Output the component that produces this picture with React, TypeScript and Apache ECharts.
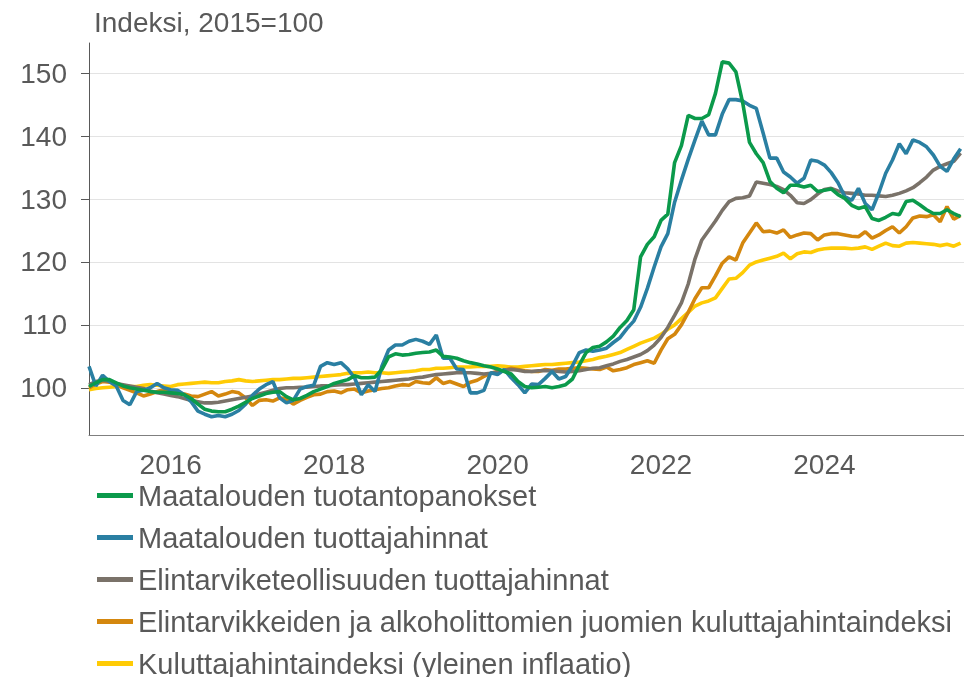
import React, { useEffect, useRef } from "react";
import * as echarts from "echarts";

// Monthly data, Jan 2015 .. Sep 2025 (index 0 = Jan 2015)
const startYear = 2015;

const seriesNames = [
  "Maatalouden tuotantopanokset",
  "Maatalouden tuottajahinnat",
  "Elintarviketeollisuuden tuottajahinnat",
  "Elintarvikkeiden ja alkoholittomien juomien kuluttajahintaindeksi",
  "Kuluttajahintaindeksi (yleinen inflaatio)",
];

const maatalousPanokset = [
  100.2, 100.8, 101.3, 101.3, 100.8, 100.3, 100.0, 99.8, 99.6, 99.4,
  99.3, 99.3, 99.2, 99.1, 98.9, 98.3, 97.4, 96.6, 96.3, 96.2,
  96.2, 96.6, 97.1, 97.7, 98.3, 98.7, 99.1, 99.3, 99.4, 98.6,
  98.1, 98.3, 98.8, 99.4, 99.8, 100.2, 100.7, 101.0, 101.3, 101.9,
  101.6, 101.6, 101.7, 102.9, 104.9, 105.4, 105.2, 105.3, 105.5, 105.6,
  105.7, 106.0, 105.0, 104.9, 104.7, 104.3, 104.0, 103.8, 103.5, 103.3,
  103.0, 102.6, 102.2, 101.0, 100.2, 100.0, 100.1, 100.2, 100.0, 100.2,
  100.5, 101.4, 103.6, 105.6, 106.4, 106.6, 107.3, 108.2, 109.6, 110.7,
  112.4, 120.8, 122.8, 124.0, 126.6, 127.6, 135.8, 138.5, 143.3, 142.8,
  142.8, 143.4, 146.8, 151.8, 151.6, 150.2, 145.3, 139.0, 137.2, 135.8,
  132.8, 131.7, 131.0, 132.2, 132.2, 131.9, 132.2, 131.2, 131.4, 131.6,
  130.7, 130.1, 129.0, 128.5, 128.8, 126.9, 126.6, 127.1, 127.7, 127.5,
  129.6, 129.8, 129.1, 128.3, 127.7, 127.7, 128.3, 127.7, 127.2,
];

const maatalousTuottaja = [
  103.4, 100.3, 102.0, 101.0, 100.3, 98.0, 97.3, 99.4, 99.6, 100.0,
  100.7, 100.0, 99.7, 99.6, 98.9, 97.8, 96.3, 95.8, 95.4, 95.6,
  95.4, 95.8, 96.4, 97.4, 98.8, 99.8, 100.5, 101.0, 98.4, 97.6,
  98.0, 99.8, 100.2, 100.4, 103.4, 104.0, 103.7, 104.0, 103.0, 101.6,
  98.9, 100.5, 99.4, 103.4, 106.0, 106.8, 106.8, 107.4, 107.7, 107.4,
  106.9, 108.4, 104.7, 104.7, 103.0, 102.9, 99.2, 99.2, 99.6, 102.4,
  102.1, 102.9, 101.6, 100.5, 99.2, 100.6, 100.5, 101.5, 102.6, 101.4,
  101.8, 103.5, 105.6, 106.0, 105.8, 106.0, 106.3, 107.2, 108.0, 109.4,
  110.6, 112.8, 115.8, 119.2, 122.4, 124.5, 129.5, 133.0, 136.3, 139.4,
  142.4, 140.2, 140.2, 143.5, 145.8, 145.8, 145.6, 144.9, 144.4, 140.5,
  136.5, 136.5, 134.3, 133.5, 132.5, 133.3, 136.2, 136.0, 135.4, 134.2,
  132.6, 130.4, 129.8, 131.7, 129.3, 128.3, 131.0, 134.1, 136.2, 138.8,
  137.2, 139.4, 139.0, 138.3, 137.0, 135.2, 134.4, 136.4, 138.0,
];

const elintarvikeTeollisuus = [
  100.5, 101.0, 101.2, 101.0, 100.7, 100.5, 100.3, 100.1, 99.9, 99.5,
  99.2, 99.0, 98.8, 98.6, 98.3, 98.0, 97.8, 97.6, 97.6, 97.7,
  97.9, 98.1, 98.3, 98.5, 98.7, 99.0, 99.3, 99.6, 99.9, 100.0,
  100.0, 100.1, 100.1, 100.2, 100.3, 100.3, 100.4, 100.5, 100.5, 100.6,
  100.7, 100.8, 100.9, 101.0, 101.1, 101.2, 101.3, 101.4, 101.6, 101.7,
  101.9, 102.1, 102.2, 102.3, 102.4, 102.4, 102.4, 102.3, 102.2, 102.3,
  102.5, 102.8, 102.9, 102.8, 102.6, 102.6, 102.7, 102.7, 102.7, 102.6,
  102.5, 102.6, 102.7, 102.9, 103.1, 103.2, 103.5, 103.8, 104.2, 104.5,
  104.9, 105.3, 105.9, 106.8, 108.0, 109.6, 111.5, 113.5, 116.5, 120.5,
  123.5, 125.0, 126.5, 128.2, 129.6, 130.1, 130.2, 130.5, 132.7, 132.5,
  132.3, 132.0, 131.5, 130.6, 129.4, 129.3, 129.9, 130.8, 131.5, 131.7,
  131.3, 131.0, 130.9, 130.8, 130.6, 130.6, 130.5, 130.4, 130.6, 130.9,
  131.3, 131.8, 132.6, 133.5, 134.6, 135.2, 135.6, 136.0, 137.3,
];

const elintarvikeKulutus = [
  100.0, 100.6, 101.0, 100.9, 100.5, 100.0, 99.6, 99.2, 98.7, 99.0,
  99.4, 99.7, 99.5, 99.2, 99.0, 98.7, 98.6, 99.0, 99.4, 98.7,
  99.0, 99.4, 99.2, 98.4, 97.2, 98.0, 98.1, 97.9, 98.4, 98.2,
  97.4, 98.0, 98.5, 98.9, 99.0, 99.4, 99.5, 99.2, 99.7, 99.8,
  99.2, 99.5, 99.7, 99.9, 100.0, 100.3, 100.5, 100.4, 101.0, 100.8,
  100.7, 101.6, 100.7, 101.0, 100.6, 100.2, 100.9, 101.2, 101.8, 102.3,
  102.6, 102.8, 103.1, 102.9, 102.7, 102.6, 102.6, 102.9, 102.8, 103.0,
  103.0, 103.1, 103.2, 103.1, 103.0, 102.9, 103.3, 102.7, 102.9, 103.2,
  103.7, 104.0, 104.3, 103.9, 106.0, 107.8, 108.5, 110.0, 112.0, 114.2,
  115.9, 115.9, 117.8, 119.8, 120.8, 120.3, 123.0, 124.6, 126.2, 124.8,
  124.9, 124.6, 125.1, 123.9, 124.3, 124.6, 124.5, 123.5, 124.3, 124.5,
  124.5, 124.3, 124.1, 124.0, 124.8, 123.8, 124.3, 125.0, 125.6, 124.6,
  125.6, 127.0, 127.3, 127.2, 127.5, 126.4, 128.8, 126.8, 127.4,
];

const kuluttajahinta = [
  99.7, 99.9, 100.0, 100.1, 100.2, 100.3, 100.2, 100.2, 100.4, 100.5,
  100.4, 100.3, 100.2, 100.5, 100.6, 100.7, 100.8, 100.9, 100.8, 100.8,
  101.0, 101.1, 101.3, 101.1, 101.0, 101.1, 101.2, 101.3, 101.3, 101.4,
  101.5, 101.5, 101.6, 101.7, 101.8, 101.9, 102.0, 102.1, 102.3, 102.4,
  102.4, 102.5, 102.4, 102.4, 102.3, 102.4, 102.5, 102.6, 102.7, 102.9,
  102.9, 103.1, 103.1, 103.2, 103.3, 103.3, 103.3, 103.4, 103.4, 103.4,
  103.5, 103.4, 103.3, 103.3, 103.4, 103.5, 103.6, 103.7, 103.7, 103.8,
  103.9, 104.0, 104.1, 104.3, 104.5, 104.8, 105.0, 105.3, 105.6, 106.1,
  106.6, 107.1, 107.5, 107.9, 108.5, 109.3, 110.0, 111.0, 112.0, 113.0,
  113.5, 113.8, 114.3, 115.8, 117.3, 117.4, 118.3, 119.5, 120.0, 120.3,
  120.6, 120.9, 121.4, 120.5, 121.3, 121.6, 121.5, 121.9, 122.1, 122.2,
  122.2, 122.2, 122.1, 122.2, 122.4, 122.0, 122.5, 123.0, 122.6, 122.5,
  123.0, 123.1, 123.0, 122.9, 122.8, 122.6, 122.8, 122.5, 123.0,
];

const yTickValues = [100, 110, 120, 130, 140, 150];
const xTickYears = [2016, 2018, 2020, 2022, 2024];

const colors = ["#0b9a4b", "#2a7fa2", "#7a7269", "#d4870e", "#ffcb05"];

const FONT = "'Liberation Sans', Arial, sans-serif";
const TEXT = "#595959";

function toPoints(values: number[]) {
  return values.map((v, i) => [startYear + i / 12, v]);
}

export default function App() {
  const ref = useRef<HTMLDivElement>(null);

  useEffect(() => {
    if (!ref.current) return;
    const chart = echarts.init(ref.current, undefined, { renderer: "svg" });

    const dataSets = [
      maatalousPanokset,
      maatalousTuottaja,
      elintarvikeTeollisuus,
      elintarvikeKulutus,
      kuluttajahinta,
    ];

    // draw order: yellow at bottom, green on top
    const order = [4, 3, 2, 1, 0];
    const series = order.map((idx) => ({
      name: seriesNames[idx],
      type: "line",
      data: toPoints(dataSets[idx]),
      showSymbol: false,
      symbol: "none",
      lineStyle: { width: 3.6, color: colors[idx] },
      itemStyle: { color: colors[idx] },
      z: 2 + (4 - idx),
    }));

    chart.setOption({
      animation: false,
      textStyle: { fontFamily: FONT },
      title: {
        text: "Indeksi, 2015=100",
        left: 89,
        top: 3,
        textStyle: {
          fontFamily: FONT,
          fontSize: 28,
          fontWeight: "normal",
          color: TEXT,
        },
      },
      grid: {
        left: 89,
        right: 0,
        top: 43,
        bottom: 677 - 435,
        containLabel: false,
        outerBoundsMode: "none",
      },
      legend: {
        orient: "vertical",
        left: 97,
        top: 481,
        height: 260,
        padding: 0,
        icon: "rect",
        itemWidth: 36,
        itemHeight: 5,
        itemGap: 13,
        data: seriesNames,
        textStyle: {
          fontFamily: FONT,
          fontSize: 29,
          lineHeight: 29,
          color: TEXT,
        },
      },
      xAxis: {
        type: "value",
        min: 2015,
        max: 2015 + 128.5 / 12,
        axisLine: { show: true, lineStyle: { color: "#7f7f7f", width: 1 } },
        axisTick: { show: false },
        splitLine: { show: false },
        axisLabel: {
          customValues: xTickYears,
          formatter: (v: number) => String(Math.round(v)),
          fontFamily: FONT,
          fontSize: 28,
          color: TEXT,
          margin: 15,
        },
      },
      yAxis: {
        type: "value",
        min: 92.5,
        max: 154.8,
        axisLine: { show: true, lineStyle: { color: "#595959", width: 1 } },
        axisTick: {
          show: true,
          length: 8,
          customValues: yTickValues,
          lineStyle: { color: "#595959" },
        },
        axisLabel: {
          customValues: yTickValues,
          fontFamily: FONT,
          fontSize: 28,
          color: TEXT,
          margin: 22,
        },
        splitLine: { show: true, lineStyle: { color: "#e3e3e3", width: 1 } },
      },
      series,
    });

    return () => chart.dispose();
  }, []);

  return (
    <div
      ref={ref}
      style={{ position: "fixed", left: 0, top: 0, width: 964, height: 677 }}
    />
  );
}
